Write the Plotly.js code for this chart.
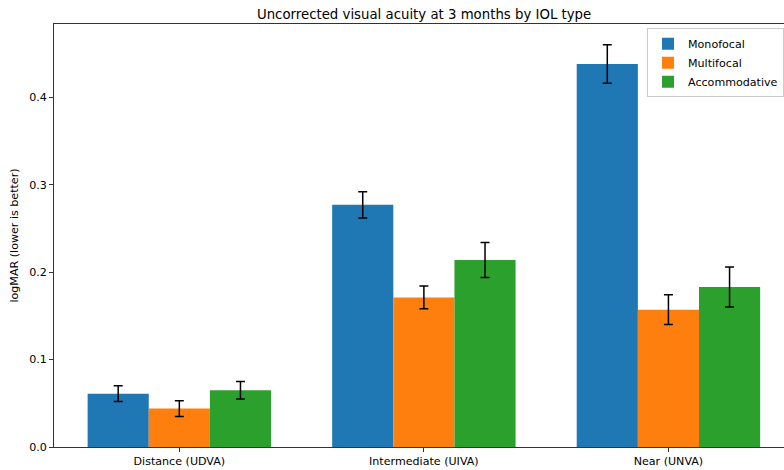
<!DOCTYPE html>
<html>
<head>
<meta charset="utf-8">
<script src="https://cdn.plot.ly/plotly-3.0.1.min.js"></script>
<style>html,body{margin:0;padding:0;background:#fff;}#chart{width:784px;height:470px;}</style>
</head>
<body>
<div id="chart"></div>
<script>
const categories = ["Distance (UDVA)", "Intermediate (UIVA)", "Near (UNVA)"];
const seriesNames = ["Monofocal", "Multifocal", "Accommodative"];
const monofocal = [0.061, 0.277, 0.438];
const multifocal = [0.044, 0.171, 0.157];
const accommodative = [0.065, 0.214, 0.183];
const monofocalErr = [0.009, 0.015, 0.022];
const multifocalErr = [0.009, 0.013, 0.017];
const accommodativeErr = [0.010, 0.020, 0.023];
const yTicks = [0.0, 0.1, 0.2, 0.3, 0.4];

const colors = ["#1f77b4", "#ff7f0e", "#2ca02c"];
const values = [monofocal, multifocal, accommodative];
const errs = [monofocalErr, multifocalErr, accommodativeErr];

const traces = seriesNames.map((name, i) => ({
  type: "bar",
  name: name,
  x: categories,
  y: values[i],
  marker: {color: colors[i], line: {width: 0}},
  error_y: {type: "data", array: errs[i], visible: true, color: "#000", thickness: 1.5, width: 4.5}
}));

const font = "DejaVu Sans, sans-serif";
const fs = 11.1;
const layout = {
  width: 784, height: 470,
  margin: {l: 54, r: 0, t: 24, b: 23, pad: 0, autoexpand: false},
  paper_bgcolor: "#fff", plot_bgcolor: "#fff",
  font: {family: font, size: fs, color: "#000"},
  title: {text: "Uncorrected visual acuity at 3 months by IOL type", font: {family: font, size: 13.3, color: "#000"},
          x: 0.507, xref: "paper", xanchor: "center", y: 0.969, yref: "container", yanchor: "middle"},
  barmode: "group", bargap: 0.25, bargroupgap: 0,
  xaxis: {type: "category", range: [-0.5125, 2.4726], showline: true, linecolor: "#333", linewidth: 1, mirror: true,
          ticks: "outside", ticklen: 3.9, tickcolor: "#333", showgrid: false, zeroline: false,
          tickfont: {family: font, size: fs, color: "#000"}, automargin: false},
  yaxis: {range: [0, 0.4838], tickvals: yTicks, tickformat: ".1f", showline: true, linecolor: "#333", linewidth: 1,
          ticks: "outside", ticklen: 3.9, tickcolor: "#333", showgrid: false, zeroline: false,
          tickfont: {family: font, size: fs, color: "#000"}, automargin: false,
          title: {text: "logMAR (lower is better)", font: {family: font, size: fs, color: "#000"}, standoff: 8}},
  legend: {x: 1, y: 0.99, xanchor: "right", yanchor: "top", bgcolor: "rgba(255,255,255,0.8)",
           bordercolor: "#ccc", borderwidth: 1, font: {family: font, size: fs, color: "#000"}, tracegroupgap: 0},
  showlegend: true
};
Plotly.newPlot("chart", traces, layout, {displayModeBar: false, staticPlot: true});
</script>
</body>
</html>
